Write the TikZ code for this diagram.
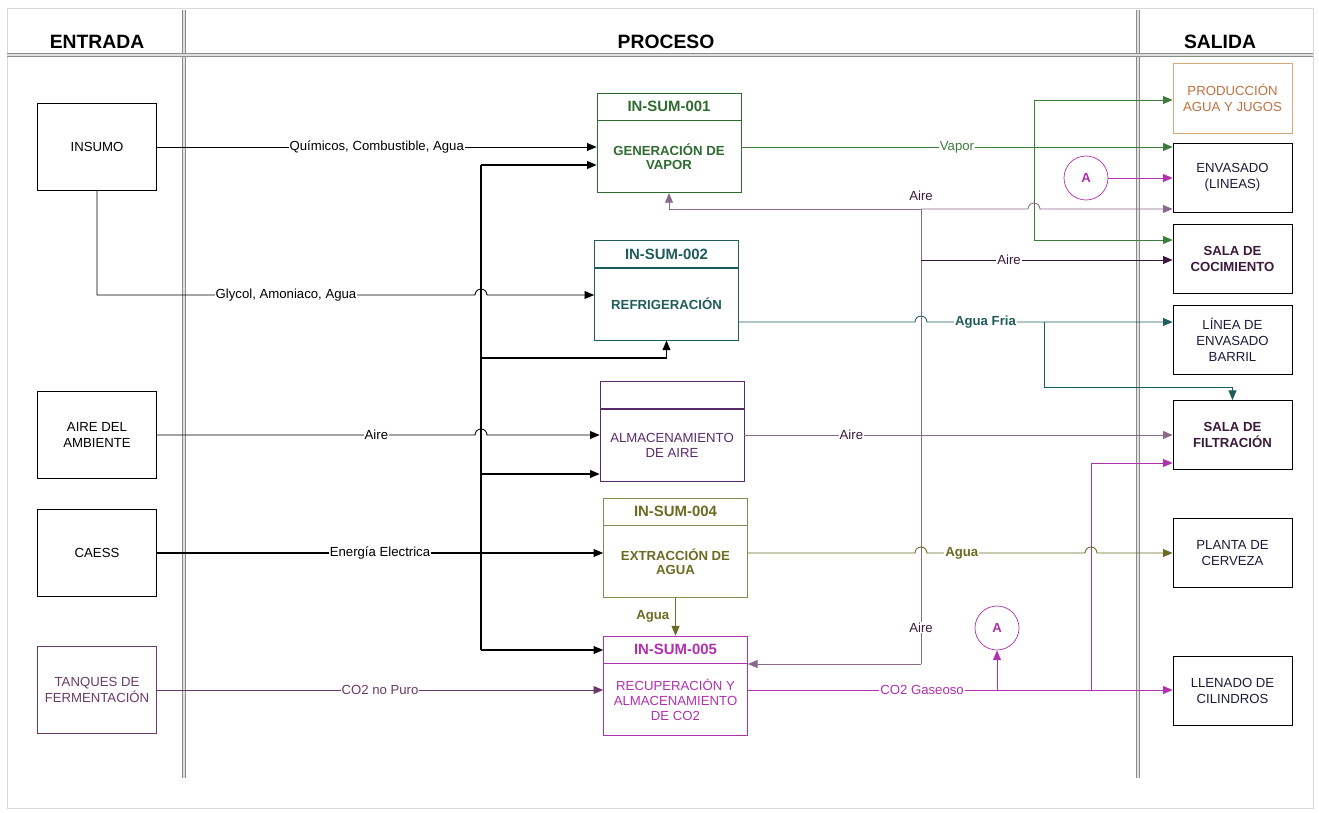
\documentclass[tikz,border=0pt]{standalone}
\usepackage{fontspec}
\setmainfont{Liberation Sans}
\usetikzlibrary{positioning,arrows.meta}
\definecolor{vapgreen}{HTML}{2E6B2E}
\definecolor{vapline}{HTML}{3C7D3C}
\definecolor{friateal}{HTML}{1F5C5C}
\definecolor{almpur}{HTML}{5A2A6A}
\definecolor{airline}{HTML}{8A6A8A}
\definecolor{airdark}{HTML}{3A1A3A}
\definecolor{olive}{HTML}{6B6B22}
\definecolor{olivebrd}{HTML}{8A8A55}
\definecolor{mag}{HTML}{B030B0}
\definecolor{tanq}{HTML}{6A3A6A}
\definecolor{prodbrd}{HTML}{D9A878}
\definecolor{prodtxt}{HTML}{C07040}
\definecolor{navy}{HTML}{1A1A3A}
\begin{document}
\begin{tikzpicture}[x=0.02cm,y=-0.02cm,>={Triangle[length=5.5pt,width=4.5pt]},
  every node/.style={font=\fontsize{7.5}{9}\selectfont, align=center},
  hdr/.style={font=\fontsize{11}{13}\selectfont\bfseries},
  inbox/.style={draw, minimum width=2.38cm, minimum height=1.74cm},
  outbox/.style={draw, minimum width=2.38cm, minimum height=1.38cm, text=navy},
  ttl/.style={draw=#1, text=#1, font=\fontsize{8.5}{10}\selectfont\bfseries, minimum width=2.88cm, minimum height=0.54cm, inner sep=0pt},
  body/.style={draw=#1, text=#1, font=\fontsize{7.5}{8.5}\selectfont\bfseries, minimum width=2.88cm, minimum height=1.44cm, inner sep=0pt},
  lbl/.style={fill=white, inner sep=0.5pt},
  flow/.style={line width=0.5pt},
  power/.style={line width=0.65pt},
  sep/.style={draw=black!45, double=black!12, double distance=0.9pt, line width=0.6pt},
  circ/.style={circle, draw=mag, text=mag, minimum size=0.88cm, inner sep=0pt, font=\fontsize{7.5}{9}\selectfont\bfseries}]
\useasboundingbox (0,0) rectangle (1319,812);
% marco y columnas
\draw[black!15] (7,8) rectangle (1313,808);
\draw[sep] (184,10) -- (184,778);
\draw[sep] (1138,10) -- (1138,778);
\draw[sep] (7,55) -- (1313,55);
\node[hdr] (hin) at (97,42) {ENTRADA};
\node[hdr] (hpro) at (666,42) {PROCESO};
\node[hdr] (hout) at (1220,42) {SALIDA};
% entradas
\node[inbox] (insumo) at (97,147) {INSUMO};
\node[inbox] (aire) at (97,435) {AIRE DEL\\AMBIENTE};
\node[inbox] (caess) at (97,553) {CAESS};
\node[inbox, draw=tanq, text=tanq] (tanques) at (97,690) {TANQUES DE\\FERMENTACIÓN};
% procesos
\node[ttl=vapgreen] (genT) at (669,106.5) {IN-SUM-001}; \node[body=vapgreen, below=0pt of genT] (gen) {GENERACIÓN DE\\VAPOR};
\node[ttl=friateal] (refT) at (666.5,254) {IN-SUM-002}; \node[body=friateal, below=0pt of refT] (ref) {REFRIGERACIÓN};
\node[ttl=almpur] (almT) at (672,395) {}; \node[body=almpur, font=\fontsize{7.5}{8.5}\selectfont, below=0pt of almT] (alm) {ALMACENAMIENTO\\DE AIRE};
\node[ttl=olivebrd, text=olive] (extT) at (675.5,511.5) {IN-SUM-004}; \node[body=olivebrd, text=olive, below=0pt of extT] (ext) {EXTRACCIÓN DE\\AGUA};
\node[ttl=mag] (co2T) at (675.5,649.5) {IN-SUM-005}; \node[body=mag, font=\fontsize{7.5}{8.5}\selectfont, below=0pt of co2T] (co2) {RECUPERACIÓN Y\\ALMACENAMIENTO\\DE CO2};
% salidas
\node[outbox, draw=prodbrd, text=prodtxt, minimum height=1.4cm] (prod) at (1232.5,98) {PRODUCCIÓN\\AGUA Y JUGOS};
\node[outbox] (env) at (1232.5,177.5) {ENVASADO\\(LINEAS)};
\node[outbox, text=airdark, font=\fontsize{7.5}{9}\selectfont\bfseries] (coc) at (1232.5,259) {SALA DE\\COCIMIENTO};
\node[outbox] (barril) at (1232.5,340) {LÍNEA DE\\ENVASADO\\BARRIL};
\node[outbox, text=airdark, font=\fontsize{7.5}{9}\selectfont\bfseries] (filt) at (1232.5,435) {SALA DE\\FILTRACIÓN};
\node[outbox] (planta) at (1232.5,553) {PLANTA DE\\CERVEZA};
\node[outbox] (llen) at (1232.5,691) {LLENADO DE\\CILINDROS};
\node[circ] (circA) at (1086,178) {A};
\node[circ] (circB) at (997,628) {A};
% puntos de union
\coordinate (g1) at (481,295);
\coordinate (pw1) at (481,165); \coordinate (pw2) at (481,358); \coordinate (pw3) at (481,474); \coordinate (pw5) at (481,650);
\coordinate (hp1) at (481,435);
\coordinate (vp) at (1034,147); \coordinate (vpt) at (1034,100); \coordinate (vpb) at (1034,240);
\coordinate (a1) at (921,209); \coordinate (a2) at (921,260); \coordinate (a4) at (921,664); \coordinate (hp2) at (1034,209);
\coordinate (af0) at (921,322); \coordinate (af1) at (1044,322); \coordinate (af2) at (1044,387);
\coordinate (ag1) at (921,553); \coordinate (ag2) at (1091,553);
\coordinate (c1) at (997,690); \coordinate (c2) at (1091,690); \coordinate (c3) at (1091,463);
% entradas -> procesos
\draw[flow,->] (insumo) -- node[lbl] (l1) {Químicos, Combustible, Agua} (insumo -| gen.west);
\draw[flow,->] (insumo.south) -- (insumo.south |- g1) -- node[lbl] (l2) {Glycol, Amoniaco, Agua} ([xshift=-3.4pt]g1) arc[start angle=180,end angle=0,radius=3.4pt] -- (g1 -| ref.west);
\draw[flow,->] (aire) -- node[lbl,pos=0.69] (l3) {Aire} ([xshift=-3.4pt]hp1) arc[start angle=180,end angle=0,radius=3.4pt] -- (aire -| alm.west);
\draw[power,->] (caess) -- node[lbl] (l4) {Energía Electrica} (caess -| ext.west);
\draw[flow,tanq,->] (tanques) -- node[lbl] (l5) {CO2 no Puro} (tanques -| co2.west);
\draw[power] (pw1) -- (pw5);
\draw[power,->] (pw1) -- (pw1 -| gen.west);
\draw[power,->] (pw2) -| (ref.south);
\draw[power,->] (pw3) -- (pw3 -| alm.west);
\draw[power,->] (pw5) -- (pw5 -| co2T.west);
% vapor
\draw[flow,vapline,->] (insumo -| gen.east) -- node[lbl] (l6) {Vapor} (insumo -| env.west);
\draw[flow,vapline,->] (vpb) -- (vpt) -- (vpt -| prod.west);
\draw[flow,vapline,->] (vpb) -- (vpb -| coc.west);
% aire
\draw[flow,airline] (a1) -- node[lbl,pos=0.92,text=airdark] (l7) {Aire} (a4);
\draw[flow,airline,->] (a1) node[above=1pt,text=airdark] (l8) {Aire} -| (gen.south);
\draw[flow,airline,->] (a1) -- ([xshift=-3.4pt]hp2) arc[start angle=180,end angle=0,radius=3.4pt] -- (a1 -| env.west);
\draw[flow,airdark,->] (a2) -- node[lbl,pos=0.35] (l9) {Aire} (a2 -| coc.west);
\draw[flow,airline,->] (a4) -- (a4 -| co2.east);
\draw[flow,airline,->] (aire -| alm.east) -- node[lbl,pos=0.25,text=airdark] (l10) {Aire} (aire -| filt.west);
% agua fria
\draw[flow,friateal,->] (af0 -| ref.east) -- ([xshift=-3.4pt]af0) arc[start angle=180,end angle=0,radius=3.4pt] -- node[lbl,font=\fontsize{7.5}{9}\selectfont\bfseries] (l11) {Agua Fria} (af1) -- (af1 -| barril.west);
\draw[flow,friateal,->] (af1) -- (af2) -| (filt.north);
% agua
\draw[flow,olive,->] (ag1 -| ext.east) -- ([xshift=-3.4pt]ag1) arc[start angle=180,end angle=0,radius=3.4pt] -- node[lbl,pos=0.22,font=\fontsize{7.5}{9}\selectfont\bfseries] (l12) {Agua} ([xshift=-3.4pt]ag2) arc[start angle=180,end angle=0,radius=3.4pt] -- (ag2 -| planta.west);
\draw[flow,olive,->] (ext.south) -- node[left,text=olive,font=\fontsize{7.5}{9}\selectfont\bfseries] (l13) {Agua} (co2T.north);
% co2
\draw[flow,mag,->] (c1 -| co2.east) -- node[lbl,pos=0.41] (l14) {CO2 Gaseoso} (c1 -| llen.west);
\draw[flow,mag,->] (c1) -- (circB.south);
\draw[flow,mag,->] (c2) -- (c3) -- (c3 -| filt.west);
\draw[flow,mag,->] (circA) -- (circA -| env.west);
\end{tikzpicture}
\end{document}
